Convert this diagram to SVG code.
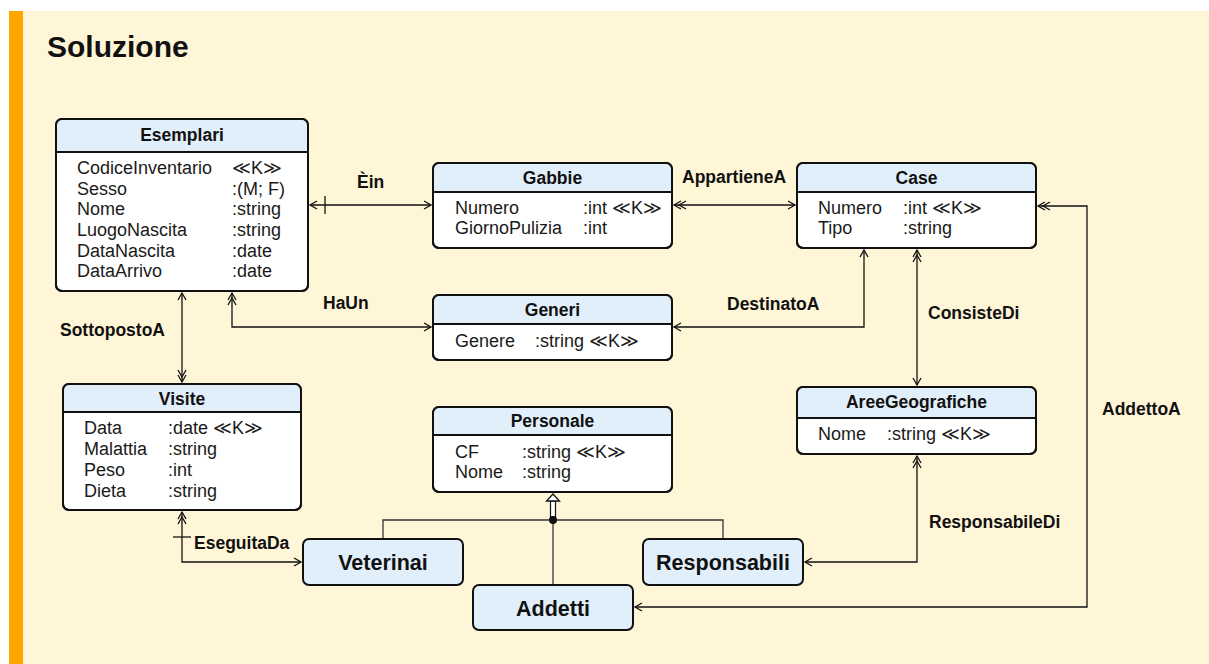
<svg xmlns="http://www.w3.org/2000/svg" width="1209" height="664" viewBox="0 0 1209 664">
<style>
.box{fill:#fff;stroke:#111;stroke-width:2}
.hdr{fill:#E1EFFA}
.div{stroke:#111;stroke-width:2}
.big{fill:#E1EFFA;stroke:#111;stroke-width:2}
.t{font-family:"Liberation Sans",Arial,sans-serif;font-size:17.5px;font-weight:bold;fill:#111;text-anchor:middle}
.bt{font-family:"Liberation Sans",Arial,sans-serif;font-size:21.5px;font-weight:bold;fill:#111;text-anchor:middle}
.a{font-family:"Liberation Sans",Arial,sans-serif;font-size:18px;fill:#1a1a1a}
.lbl{font-family:"Liberation Sans",Arial,sans-serif;font-size:17.5px;font-weight:bold;fill:#111}
.c{fill:none;stroke:#111;stroke-width:1.3}
.g{fill:none;stroke:#333;stroke-width:1.3}
</style>
<defs>
<marker id="a1" markerUnits="userSpaceOnUse" markerWidth="20" markerHeight="20" viewBox="-15 -10 20 20" refX="0" refY="0" orient="auto-start-reverse" overflow="visible">
<path d="M-7,-4 L0,0 L-7,4" fill="none" stroke="#111" stroke-width="1.3"/>
</marker>
<marker id="a2" markerUnits="userSpaceOnUse" markerWidth="24" markerHeight="20" viewBox="-19 -10 24 20" refX="0" refY="0" orient="auto-start-reverse" overflow="visible">
<path d="M-7,-4 L0,0 L-7,4 M-12,-4 L-5,0 L-12,4" fill="none" stroke="#111" stroke-width="1.3"/>
</marker>
</defs>
<rect x="9" y="11" width="1200" height="653" fill="#FFF5D7"/>
<rect x="9" y="11" width="14" height="653" fill="#FFA500"/>
<text x="47" y="57" font-family="Liberation Sans,Arial,sans-serif" font-size="30" font-weight="bold" fill="#111">Soluzione</text>

<g id="connectors">
<path class="c" d="M310,205 L431,205" marker-start="url(#a1)" marker-end="url(#a1)"/>
<line class="c" x1="325" y1="196" x2="325" y2="214"/>
<path class="c" d="M674,205 L795,205" marker-start="url(#a2)" marker-end="url(#a1)"/>
<path class="c" d="M232,293 L232,327 L431,327" marker-start="url(#a2)" marker-end="url(#a1)"/>
<path class="c" d="M182,293 L182,382" marker-start="url(#a1)" marker-end="url(#a2)"/>
<path class="c" d="M864,250 L864,327 L674,327" marker-start="url(#a1)" marker-end="url(#a1)"/>
<path class="c" d="M917,250 L917,385" marker-start="url(#a2)" marker-end="url(#a1)"/>
<path class="c" d="M1038,206 L1087,206 L1087,607 L635,607" marker-start="url(#a2)" marker-end="url(#a1)"/>
<path class="c" d="M917,456 L917,562 L805,562" marker-start="url(#a2)" marker-end="url(#a1)"/>
<path class="c" d="M182,512 L182,562 L301,562" marker-start="url(#a2)" marker-end="url(#a1)"/>
<line class="c" x1="173" y1="537" x2="191" y2="537"/>
<path class="g" d="M383,539 L383,520 L723,520 L723,539"/>
<path class="g" d="M553,520 L553,585"/>
<rect x="550.5" y="501" width="5" height="16" fill="#fff" stroke="#111" stroke-width="1.2"/>
<path d="M553,494 L546.5,501 L559.5,501 Z" fill="#fff" stroke="#111" stroke-width="1.3"/>
<circle cx="553" cy="520" r="4" fill="#111"/>
<text class="lbl" x="357" y="188">Èin</text>
<text class="lbl" x="682" y="183">AppartieneA</text>
<text class="lbl" x="323" y="309">HaUn</text>
<text class="lbl" x="60" y="336">SottopostoA</text>
<text class="lbl" x="727" y="310">DestinatoA</text>
<text class="lbl" x="928" y="319">ConsisteDi</text>
<text class="lbl" x="1102" y="415">AddettoA</text>
<text class="lbl" x="929" y="528">ResponsabileDi</text>
<text class="lbl" x="194" y="549">EseguitaDa</text>
</g>

<g id="Esemplari">
<rect class="box" x="56" y="119" width="252" height="172" rx="6"/>
<path class="hdr" d="M62,120 H302 Q307,120 307,125 V152 H57 V125 Q57,120 62,120 Z"/>
<line class="div" x1="56" y1="152" x2="308" y2="152"/>
<rect x="56" y="119" width="252" height="172" rx="6" fill="none" stroke="#111" stroke-width="2"/>
<text class="t" x="182" y="141">Esemplari</text>
<text class="a" x="77" y="174">CodiceInventario</text><text class="a" x="232" y="174">≪K≫</text>
<text class="a" x="77" y="195">Sesso</text><text class="a" x="232" y="195">:(M; F)</text>
<text class="a" x="77" y="215">Nome</text><text class="a" x="232" y="215">:string</text>
<text class="a" x="77" y="236">LuogoNascita</text><text class="a" x="232" y="236">:string</text>
<text class="a" x="77" y="257">DataNascita</text><text class="a" x="232" y="257">:date</text>
<text class="a" x="77" y="277">DataArrivo</text><text class="a" x="232" y="277">:date</text>
</g>

<g id="Gabbie">
<rect class="box" x="433" y="163" width="239" height="85" rx="6"/>
<path class="hdr" d="M439,164 H666 Q671,164 671,169 V192 H434 V169 Q434,164 439,164 Z"/>
<line class="div" x1="433" y1="192" x2="672" y2="192"/>
<rect x="433" y="163" width="239" height="85" rx="6" fill="none" stroke="#111" stroke-width="2"/>
<text class="t" x="552.5" y="184">Gabbie</text>
<text class="a" x="455" y="214">Numero</text><text class="a" x="583" y="214">:int ≪K≫</text>
<text class="a" x="455" y="234">GiornoPulizia</text><text class="a" x="583" y="234">:int</text>
</g>

<g id="Case">
<rect class="box" x="797" y="163" width="239" height="85" rx="6"/>
<path class="hdr" d="M803,164 H1030 Q1035,164 1035,169 V192 H798 V169 Q798,164 803,164 Z"/>
<line class="div" x1="797" y1="192" x2="1036" y2="192"/>
<rect x="797" y="163" width="239" height="85" rx="6" fill="none" stroke="#111" stroke-width="2"/>
<text class="t" x="916.5" y="184">Case</text>
<text class="a" x="818" y="214">Numero</text><text class="a" x="903" y="214">:int ≪K≫</text>
<text class="a" x="818" y="234">Tipo</text><text class="a" x="903" y="234">:string</text>
</g>

<g id="Generi">
<rect class="box" x="433" y="295" width="239" height="65" rx="6"/>
<path class="hdr" d="M439,296 H666 Q671,296 671,301 V324 H434 V301 Q434,296 439,296 Z"/>
<line class="div" x1="433" y1="324" x2="672" y2="324"/>
<rect x="433" y="295" width="239" height="65" rx="6" fill="none" stroke="#111" stroke-width="2"/>
<text class="t" x="552.5" y="316">Generi</text>
<text class="a" x="455" y="347">Genere</text><text class="a" x="535" y="347">:string ≪K≫</text>
</g>

<g id="AreeGeografiche">
<rect class="box" x="797" y="387" width="239" height="67" rx="6"/>
<path class="hdr" d="M803,388 H1030 Q1035,388 1035,393 V418 H798 V393 Q798,388 803,388 Z"/>
<line class="div" x1="797" y1="418" x2="1036" y2="418"/>
<rect x="797" y="387" width="239" height="67" rx="6" fill="none" stroke="#111" stroke-width="2"/>
<text class="t" x="916.5" y="408">AreeGeografiche</text>
<text class="a" x="818" y="440">Nome</text><text class="a" x="887" y="440">:string ≪K≫</text>
</g>

<g id="Visite">
<rect class="box" x="63" y="384" width="238" height="126" rx="6"/>
<path class="hdr" d="M69,385 H295 Q300,385 300,390 V412 H64 V390 Q64,385 69,385 Z"/>
<line class="div" x1="63" y1="412" x2="301" y2="412"/>
<rect x="63" y="384" width="238" height="126" rx="6" fill="none" stroke="#111" stroke-width="2"/>
<text class="t" x="182" y="405">Visite</text>
<text class="a" x="84" y="434">Data</text><text class="a" x="168" y="434">:date ≪K≫</text>
<text class="a" x="84" y="455">Malattia</text><text class="a" x="168" y="455">:string</text>
<text class="a" x="84" y="476">Peso</text><text class="a" x="168" y="476">:int</text>
<text class="a" x="84" y="497">Dieta</text><text class="a" x="168" y="497">:string</text>
</g>

<g id="Personale">
<rect class="box" x="433" y="407" width="239" height="85" rx="6"/>
<path class="hdr" d="M439,408 H666 Q671,408 671,413 V435 H434 V413 Q434,408 439,408 Z"/>
<line class="div" x1="433" y1="435" x2="672" y2="435"/>
<rect x="433" y="407" width="239" height="85" rx="6" fill="none" stroke="#111" stroke-width="2"/>
<text class="t" x="552.5" y="427">Personale</text>
<text class="a" x="455" y="458">CF</text><text class="a" x="522" y="458">:string ≪K≫</text>
<text class="a" x="455" y="478">Nome</text><text class="a" x="522" y="478">:string</text>
</g>

<g id="Veterinai">
<rect class="big" x="303" y="539" width="160" height="46" rx="6"/>
<text class="bt" x="383" y="570">Veterinai</text>
</g>

<g id="Responsabili">
<rect class="big" x="643" y="539" width="160" height="46" rx="6"/>
<text class="bt" x="723" y="570">Responsabili</text>
</g>

<g id="Addetti">
<rect class="big" x="473" y="585" width="160" height="45" rx="6"/>
<text class="bt" x="553" y="616">Addetti</text>
</g>
</svg>
